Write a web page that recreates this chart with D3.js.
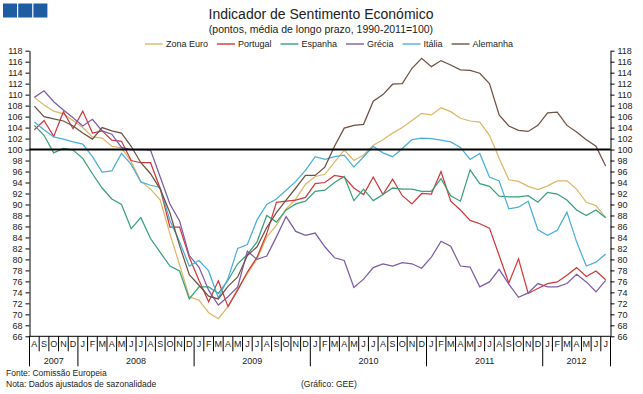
<!DOCTYPE html>
<html><head><meta charset="utf-8">
<script src="https://cdn.jsdelivr.net/npm/d3@7"></script>
<style>
body{margin:0;background:#fff;}
svg{display:block;font-family:"Liberation Sans",Arial,sans-serif;}
</style></head>
<body><svg id="c" width="643" height="394"></svg>
<script>
// ---- data ----
const months = ["A","S","O","N","D",
 "J","F","M","A","M","J","J","A","S","O","N","D",
 "J","F","M","A","M","J","J","A","S","O","N","D",
 "J","F","M","A","M","J","J","A","S","O","N","D",
 "J","F","M","A","M","J","J","A","S","O","N","D",
 "J","F","M","A","M","J","J"];
const years = ["2007","2008","2009","2010","2011","2012"];
const yearMonthCounts = [5,12,12,12,12,7];
const yTicks = [66,68,70,72,74,76,78,80,82,84,86,88,90,92,94,96,98,100,102,104,106,108,110,112,114,116,118];
const seriesNames = ["Zona Euro","Portugal","Espanha","Grécia","Itália","Alemanha"];
const zonaEuro = [109.5,108.1,107.0,106.5,105.3,104.0,102.3,102.1,100.6,100.3,97.8,94.2,92.8,90.8,84.7,79.0,73.2,72.6,70.3,69.2,
 71.4,74.7,77.4,80.1,84.1,86.2,89.2,91.0,93.7,95.1,95.5,97.7,99.9,98.0,99.0,100.8,101.8,103.0,104.0,105.3,
 106.6,106.3,107.6,106.9,105.7,105.2,105.0,102.6,98.4,94.5,94.2,93.3,92.7,93.4,94.3,94.3,92.8,90.4,89.8,87.6];
const portugal = [103.6,105.3,102.4,106.9,103.8,107.0,103.0,103.4,101.7,101.5,98.0,97.6,97.6,92.9,85.9,85.9,80.4,76.2,72.3,76.1,
 71.4,74.4,77.7,80.4,84.7,90.4,90.6,90.8,91.3,93.8,94.0,95.3,95.0,93.0,91.8,95.0,91.8,94.6,91.6,90.1,
 92.0,91.9,96.0,90.6,89.0,87.1,86.5,85.7,80.7,75.7,80.1,73.8,74.7,75.6,75.9,77.1,78.5,76.9,77.9,76.3];
const espanha = [104.4,102.6,99.4,100.2,99.9,98.4,95.6,93.0,91.0,90.0,85.6,87.6,83.8,81.3,78.8,77.9,72.8,75.0,75.0,73.8,
 76.2,79.2,80.9,83.2,88.0,86.8,89.0,90.1,90.6,92.4,92.6,94.0,95.1,90.7,92.8,90.7,91.8,93.0,92.8,92.8,
 92.4,92.4,94.7,91.6,90.6,96.3,93.8,93.3,91.5,91.4,91.4,91.6,90.4,92.2,91.9,90.8,89.0,88.0,89.0,87.6];
const grecia = [109.5,110.7,108.7,107.2,105.8,104.3,105.5,103.4,102.8,100.4,100.0,100.0,99.9,95.0,90.1,87.0,80.7,78.6,74.4,71.7,
 73.2,75.0,81.5,80.0,80.6,84.1,87.8,85.1,84.4,84.8,82.3,80.3,79.8,74.9,76.4,78.5,79.2,78.8,79.4,79.2,
 78.4,80.4,83.3,82.4,78.8,78.6,75.0,75.9,78.2,75.5,73.1,73.9,75.6,75.0,75.0,75.6,77.3,75.9,74.1,76.2];
const italia = [105.0,103.6,102.3,101.9,101.4,101.0,98.7,95.9,96.1,99.3,97.3,94.1,93.5,93.1,87.1,83.2,78.8,79.8,77.9,73.0,
 76.5,82.0,82.7,87.2,90.0,91.0,92.6,94.2,96.2,98.7,98.2,98.7,99.0,96.8,98.7,100.6,99.4,98.7,100.2,101.8,
 102.1,102.0,101.7,101.4,100.4,98.2,99.3,95.0,94.3,89.2,89.5,90.6,85.4,84.4,85.3,88.6,83.2,78.8,79.5,81.0];
const alemanha = [107.9,106.0,105.6,105.2,104.3,103.0,101.9,104.0,103.4,103.0,100.6,97.6,95.6,92.8,88.5,82.5,77.2,75.3,73.3,72.8,
 75.1,76.8,80.7,82.3,85.8,88.5,90.8,93.0,95.3,95.3,96.8,100.6,103.9,104.4,104.6,108.8,110.0,111.9,112.0,114.8,
 116.6,115.1,116.2,115.4,114.5,114.4,113.9,112.0,106.3,104.3,103.5,103.3,104.4,106.7,106.8,104.4,103.2,101.8,100.6,97.0];
const seriesValues = [zonaEuro,portugal,espanha,grecia,italia,alemanha];
const refValue = 100;

// ---- styles / layout ----
const colors = ["#dcb865","#d2393b","#3aa07c","#7d5ca6","#4aafd9","#6f5243"];
const X0 = 29.5, X1 = 610.5, YT = 50.7, YB = 336.3;
const svg = d3.select("#c");

const x = d3.scaleBand().domain(d3.range(months.length)).range([X0, X1]);
const y = d3.scaleLinear().domain([66,118]).range([YB, YT]);

// logo
const logo = svg.append("g");
[0,1,2].forEach(k=>logo.append("rect").attr("x",3+k*15.2).attr("y",3.5).attr("width",14).attr("height",14).attr("fill","#1f5da3"));

// titles
svg.append("text").attr("x",321).attr("y",19).attr("text-anchor","middle").attr("font-size",14).attr("fill","#222")
  .text("Indicador de Sentimento Económico");
svg.append("text").attr("x",321).attr("y",33).attr("text-anchor","middle").attr("font-size",10.5).attr("fill","#222")
  .text("(pontos, média de longo prazo, 1990-2011=100)");

// legend
const lg = svg.append("g").attr("font-size",9).attr("fill","#222");
const items = seriesNames.map((n,i)=>{
  const g = lg.append("g");
  g.append("line").attr("x1",0).attr("x2",18).attr("y1",0).attr("y2",0).attr("stroke",colors[i]).attr("stroke-width",1.4);
  const t = g.append("text").attr("x",21).attr("y",3.2).text(n);
  return {g, w: 21 + t.node().getComputedTextLength()};
});
const gap = 9;
const total = d3.sum(items,d=>d.w) + gap*(items.length-1);
let cx = 329 - total/2;
items.forEach(it=>{ it.g.attr("transform",`translate(${cx},44)`); cx += it.w + gap; });

// axes
const axL = svg.append("g").attr("transform",`translate(${X0},0)`)
  .call(d3.axisLeft(y).tickValues(yTicks).tickSize(4).tickPadding(3).tickSizeOuter(0));
const axR = svg.append("g").attr("transform",`translate(${X1},0)`)
  .call(d3.axisRight(y).tickValues(yTicks).tickSize(4).tickPadding(3).tickSizeOuter(0));
[axL,axR].forEach(a=>{
  a.selectAll("text").attr("font-size",9).attr("fill","#222").attr("font-family","Liberation Sans, Arial, sans-serif");
  a.selectAll("line,path").attr("stroke","#000");
});

// bottom category axis
const bx = svg.append("g");
bx.append("line").attr("x1",X0).attr("x2",X1).attr("y1",YB).attr("y2",YB).attr("stroke","#000");
const yearStarts = [];
let acc = 0; yearMonthCounts.forEach(c=>{ yearStarts.push(acc); acc += c; });
d3.range(months.length+1).forEach(i=>{
  const xp = i < months.length ? x(i) : X1;
  const isYear = i===0 || i===months.length || yearStarts.includes(i);
  bx.append("line").attr("x1",xp).attr("x2",xp).attr("y1",YB).attr("y2",YB+(isYear?30:15)).attr("stroke","#000").attr("stroke-width",1);
});
bx.selectAll("text.m").data(months).join("text").attr("class","m")
  .attr("x",(d,i)=>x(i)+x.bandwidth()/2).attr("y",YB+10.8).attr("text-anchor","middle")
  .attr("font-size",9).attr("fill","#222").text(d=>d);
bx.selectAll("text.yr").data(years).join("text").attr("class","yr")
  .attr("x",(d,i)=>{ const s=yearStarts[i], e=s+yearMonthCounts[i]; return (x(s) + (e<months.length?x(e):X1))/2; })
  .attr("y",YB+28).attr("text-anchor","middle").attr("font-size",9).attr("fill","#222").text(d=>d);

// series
const line = d3.line().x((d,i)=>x(i)+x.bandwidth()/2).y(d=>y(d));
seriesValues.forEach((vals,k)=>{
  svg.append("path").datum(vals).attr("d",line).attr("fill","none").attr("stroke",colors[k]).attr("stroke-width",1.25);
});

// reference line
svg.append("line").attr("x1",X0).attr("x2",X1).attr("y1",y(refValue)).attr("y2",y(refValue)).attr("stroke","#000").attr("stroke-width",2);

// footer
const ft = svg.append("g").attr("font-size",8.5).attr("fill","#222");
ft.append("text").attr("x",6).attr("y",376).text("Fonte: Comissão Europeia");
ft.append("text").attr("x",6).attr("y",386.5).text("Nota: Dados ajustados de sazonalidade");
ft.append("text").attr("x",301).attr("y",386.5).text("(Gráfico: GEE)");
</script></body></html>
